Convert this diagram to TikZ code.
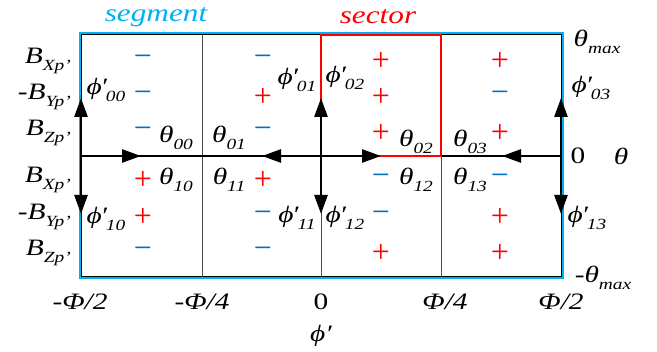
\documentclass[tikz,border=0pt]{standalone}
\usepackage{fontspec}
\setmainfont{Liberation Serif}
\newfontfamily\labfont{Liberation Serif}[FakeStretch=1.25]
\usetikzlibrary{arrows.meta}
\definecolor{segblue}{RGB}{0,176,240}
\definecolor{minblue}{RGB}{0,112,192}
\newcommand\sbx[1]{\raisebox{-0.28em}{\fontsize{15.5}{15.5}\selectfont #1}}
\newcommand\phipr{ϕ\kern-0.06em′\kern-0.04em}
\tikzset{
  lab/.style={font=\labfont\fontsize{23.5}{25}\selectfont\itshape, inner sep=0pt},
  num/.style={font=\labfont\fontsize{23.5}{25}\selectfont, inner sep=0pt},
  ttl/.style={font=\labfont\fontsize{25}{27}\selectfont\itshape, inner sep=0pt},
  plussign/.style={text=red, font=\fontsize{32}{32}\selectfont, inner sep=0pt},
  minussign/.style={text=minblue, font=\fontsize{32}{32}\selectfont, inner sep=0pt},
  gridline/.style={draw=black!70, line width=0.9pt},
  arr/.style={draw=black, line width=2.6pt, -{Triangle[length=19pt,width=13pt]}},
}
\begin{document}
\begin{tikzpicture}[x=1pt,y=-1pt]
\useasboundingbox (0,0) rectangle (657,352);
% corner and grid coordinates
\coordinate (TL) at (81,35);
\coordinate (TR) at (561,35);
\coordinate (BL) at (81,277);
\coordinate (BR) at (561,277);
\coordinate (ML) at (81,156);
\coordinate (MR) at (561,156);
\coordinate (MC) at (321,156);
\coordinate (T1) at (202,35);
\coordinate (B1) at (202,277);
\coordinate (T2) at (321,35);
\coordinate (B2) at (321,277);
\coordinate (T3) at (441,35);
\coordinate (B3) at (441,277);
% arrow tips
\coordinate (LU) at (81,98);
\coordinate (LD) at (81,214);
\coordinate (LR) at (141,156);
\coordinate (CL) at (262,156);
\coordinate (CU) at (321,98);
\coordinate (CD) at (321,214);
\coordinate (CR) at (381,156);
\coordinate (RL) at (502,156);
\coordinate (RU) at (561,98);
\coordinate (RD) at (561,214);

% outer box
\draw[segblue, line width=3pt] ([shift={(-1,-1)}]TL) rectangle ([shift={(1,1)}]BR);
\draw[black, line width=1pt] (TL) rectangle (BR);
% grid
\draw[gridline] (T1) -- (B1);
\draw[gridline] (T2) -- (B2);
\draw[gridline] (T3) -- (B3);
\draw[black, line width=1.5pt] (ML) -- (MR);
% sector
\draw[red, line width=2pt] (MC) rectangle (T3);
% arrows
\draw[arr] (ML) -- (LU);
\draw[arr] (ML) -- (LD);
\draw[arr] (ML) -- (LR);
\draw[arr] (MC) -- (CL);
\draw[arr] (MC) -- (CU);
\draw[arr] (MC) -- (CD);
\draw[arr] (MC) -- (CR);
\draw[arr] (MR) -- (RL);
\draw[arr] (MR) -- (RU);
\draw[arr] (MR) -- (RD);

% titles
\node[ttl, text=segblue] (seg) at (156,17) {segment};
\node[ttl, text=red] (sec) at (378,17) {sector};

% left labels
\node[lab, anchor=east] (b1) at (71,61) {B\sbx{Xp’}};
\node[lab, anchor=east] (b2) at (71,97) {-B\sbx{Yp’}};
\node[lab, anchor=east] (b3) at (71,133) {B\sbx{Zp’}};
\node[lab, anchor=east] (b4) at (71,180) {B\sbx{Xp’}};
\node[lab, anchor=east] (b5) at (71,217) {-B\sbx{Yp’}};
\node[lab, anchor=east] (b6) at (71,253) {B\sbx{Zp’}};

% right labels
\node[lab] (tmax) at (597,42) {θ\sbx{max}};
\node[lab] (p03) at (591,88) {\phipr\sbx{03}};
\node[num] (zero) at (578,156) {0};
\node[lab] (theta) at (621,156) {θ};
\node[lab] (p13) at (587,218) {\phipr\sbx{13}};
\node[lab] (mtmax) at (603,278) {-θ\sbx{max}};

% bottom labels
\node[lab] (x1) at (80,302) {-Φ/2};
\node[lab] (x2) at (202,302) {-Φ/4};
\node[num] (x3) at (321,302) {0};
\node[lab] (x4) at (445,302) {Φ/4};
\node[lab] (x5) at (561,302) {Φ/2};
\node[lab] (phip) at (321,336) {ϕ′};

% cell labels
\node[lab] (p00) at (106,90) {\phipr\sbx{00}};
\node[lab] (p10) at (106,219) {\phipr\sbx{10}};
\node[lab] (p01) at (297,80) {\phipr\sbx{01}};
\node[lab] (p11) at (297,218) {\phipr\sbx{11}};
\node[lab] (p02) at (345,78) {\phipr\sbx{02}};
\node[lab] (p12) at (345,218) {\phipr\sbx{12}};
\node[lab] (t00) at (176,138) {θ\sbx{00}};
\node[lab] (t01) at (229,138) {θ\sbx{01}};
\node[lab] (t10) at (176,180) {θ\sbx{10}};
\node[lab] (t11) at (229,180) {θ\sbx{11}};
\node[lab] (t02) at (416,142) {θ\sbx{02}};
\node[lab] (t03) at (470,142) {θ\sbx{03}};
\node[lab] (t12) at (416,180) {θ\sbx{12}};
\node[lab] (t13) at (470,180) {θ\sbx{13}};

% signs column 0
\node[minussign] (s00) at (143,61) {−};
\node[minussign] (s01) at (143,97) {−};
\node[minussign] (s02) at (143,133) {−};
\node[plussign]  (s03) at (143,180) {+};
\node[plussign]  (s04) at (143,217) {+};
\node[minussign] (s05) at (143,253) {−};
% column 1
\node[minussign] (s10) at (263,61) {−};
\node[plussign]  (s11) at (263,97) {+};
\node[minussign] (s12) at (263,133) {−};
\node[plussign]  (s13) at (263,180) {+};
\node[minussign] (s14) at (263,217) {−};
\node[minussign] (s15) at (263,253) {−};
% column 2
\node[plussign]  (s20) at (381,61) {+};
\node[plussign]  (s21) at (381,97) {+};
\node[plussign]  (s22) at (381,133) {+};
\node[minussign] (s23) at (381,180) {−};
\node[minussign] (s24) at (381,217) {−};
\node[plussign]  (s25) at (381,253) {+};
% column 3
\node[plussign]  (s30) at (500,61) {+};
\node[minussign] (s31) at (500,97) {−};
\node[plussign]  (s32) at (500,133) {+};
\node[minussign] (s33) at (500,180) {−};
\node[plussign]  (s34) at (500,217) {+};
\node[plussign]  (s35) at (500,253) {+};
\end{tikzpicture}
\end{document}
